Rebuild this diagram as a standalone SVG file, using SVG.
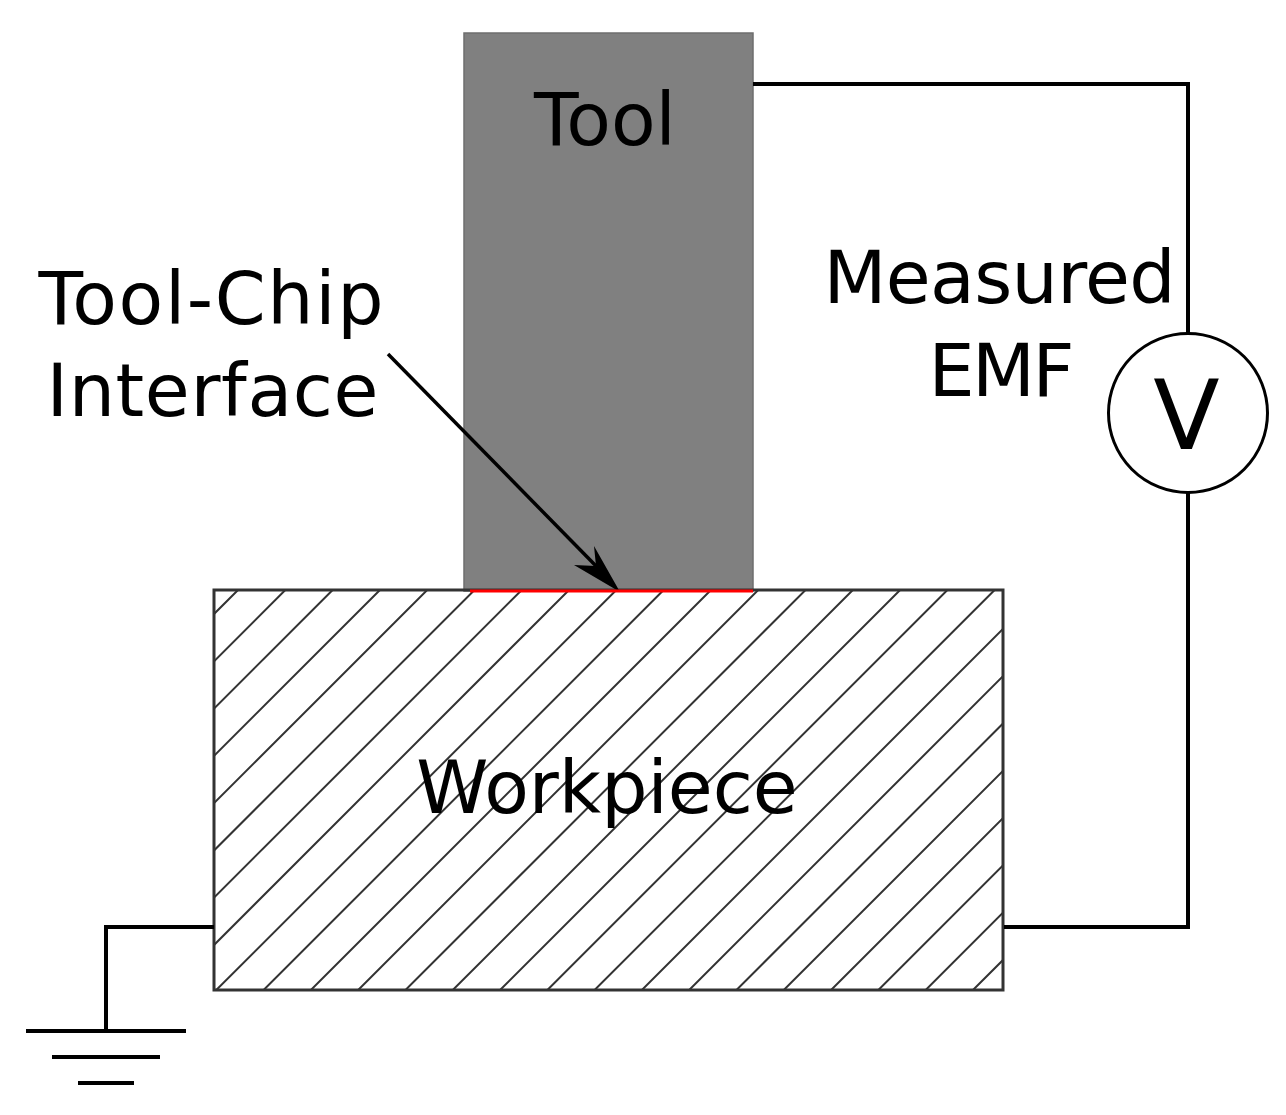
<svg xmlns="http://www.w3.org/2000/svg" width="1286" height="1115" viewBox="0 0 1286 1115">
<style>
text{font-family:"DejaVu Sans",Verdana,sans-serif;font-size:73px;fill:#000;text-anchor:middle}
.w{fill:none;stroke:#000;stroke-width:4}
.h{fill:none;stroke:#333;stroke-width:2}
</style>
<defs>
<clipPath id="wp"><rect x="214" y="590" width="789" height="400"/></clipPath>
</defs>
<rect width="1286" height="1115" fill="#fff"/>
<g id="tool"><rect x="464" y="33" width="289" height="558" fill="#808080" stroke="#6e6e6e" stroke-width="1.500"/><text x="605" y="145">Tool</text></g>
<g id="workpiece">
<path class="h" clip-path="url(#wp)" d="M-162 990L238 590M-114.700 990L285.300 590M-67.400 990L332.600 590M-20.100 990L379.900 590M27.200 990L427.200 590M74.500 990L474.500 590M121.700 990L521.700 590M169 990L569 590M216.300 990L616.300 590M263.600 990L663.600 590M310.900 990L710.900 590M358.200 990L758.200 590M405.500 990L805.500 590M452.800 990L852.800 590M500.100 990L900.100 590M547.400 990L947.400 590M594.600 990L994.600 590M641.900 990L1041.900 590M689.200 990L1089.200 590M736.500 990L1136.500 590M783.800 990L1183.800 590M831.100 990L1231.100 590M878.400 990L1278.400 590M925.700 990L1325.700 590M973 990L1373 590"/>
<rect x="214" y="590" width="789" height="400" fill="none" stroke="#333" stroke-width="3"/>
<text x="607" y="813">Workpiece</text></g>
<g id="voltmeter"><circle cx="1188" cy="413" r="79.500" fill="#fff" stroke="#000" stroke-width="3"/><text x="1186.500" y="449" style="font-size:97px">V</text></g>
<g id="ground"><path class="w" d="M26 1031H186M52 1057H160M78 1083H134"/></g>
<g id="connectors">
<path class="w" d="M753 84H1188V334M1188 492V927H1004M214 927H106V1031"/>
<path d="M388 354L597 567" fill="none" stroke="#000" stroke-width="3.500"/>
<path d="M620 592L594 546L596 566L574 565Z" fill="#000"/>
</g>
<g id="interface"><path d="M470 591H753" fill="none" stroke="#f00" stroke-width="3"/></g>
<g id="labels"><text x="211" y="324" textLength="345">Tool-Chip</text><text x="212.500" y="416" textLength="332">Interface</text><text x="999.500" y="303" textLength="352">Measured</text><text x="1001.500" y="396" textLength="146">EMF</text></g>
</svg>
